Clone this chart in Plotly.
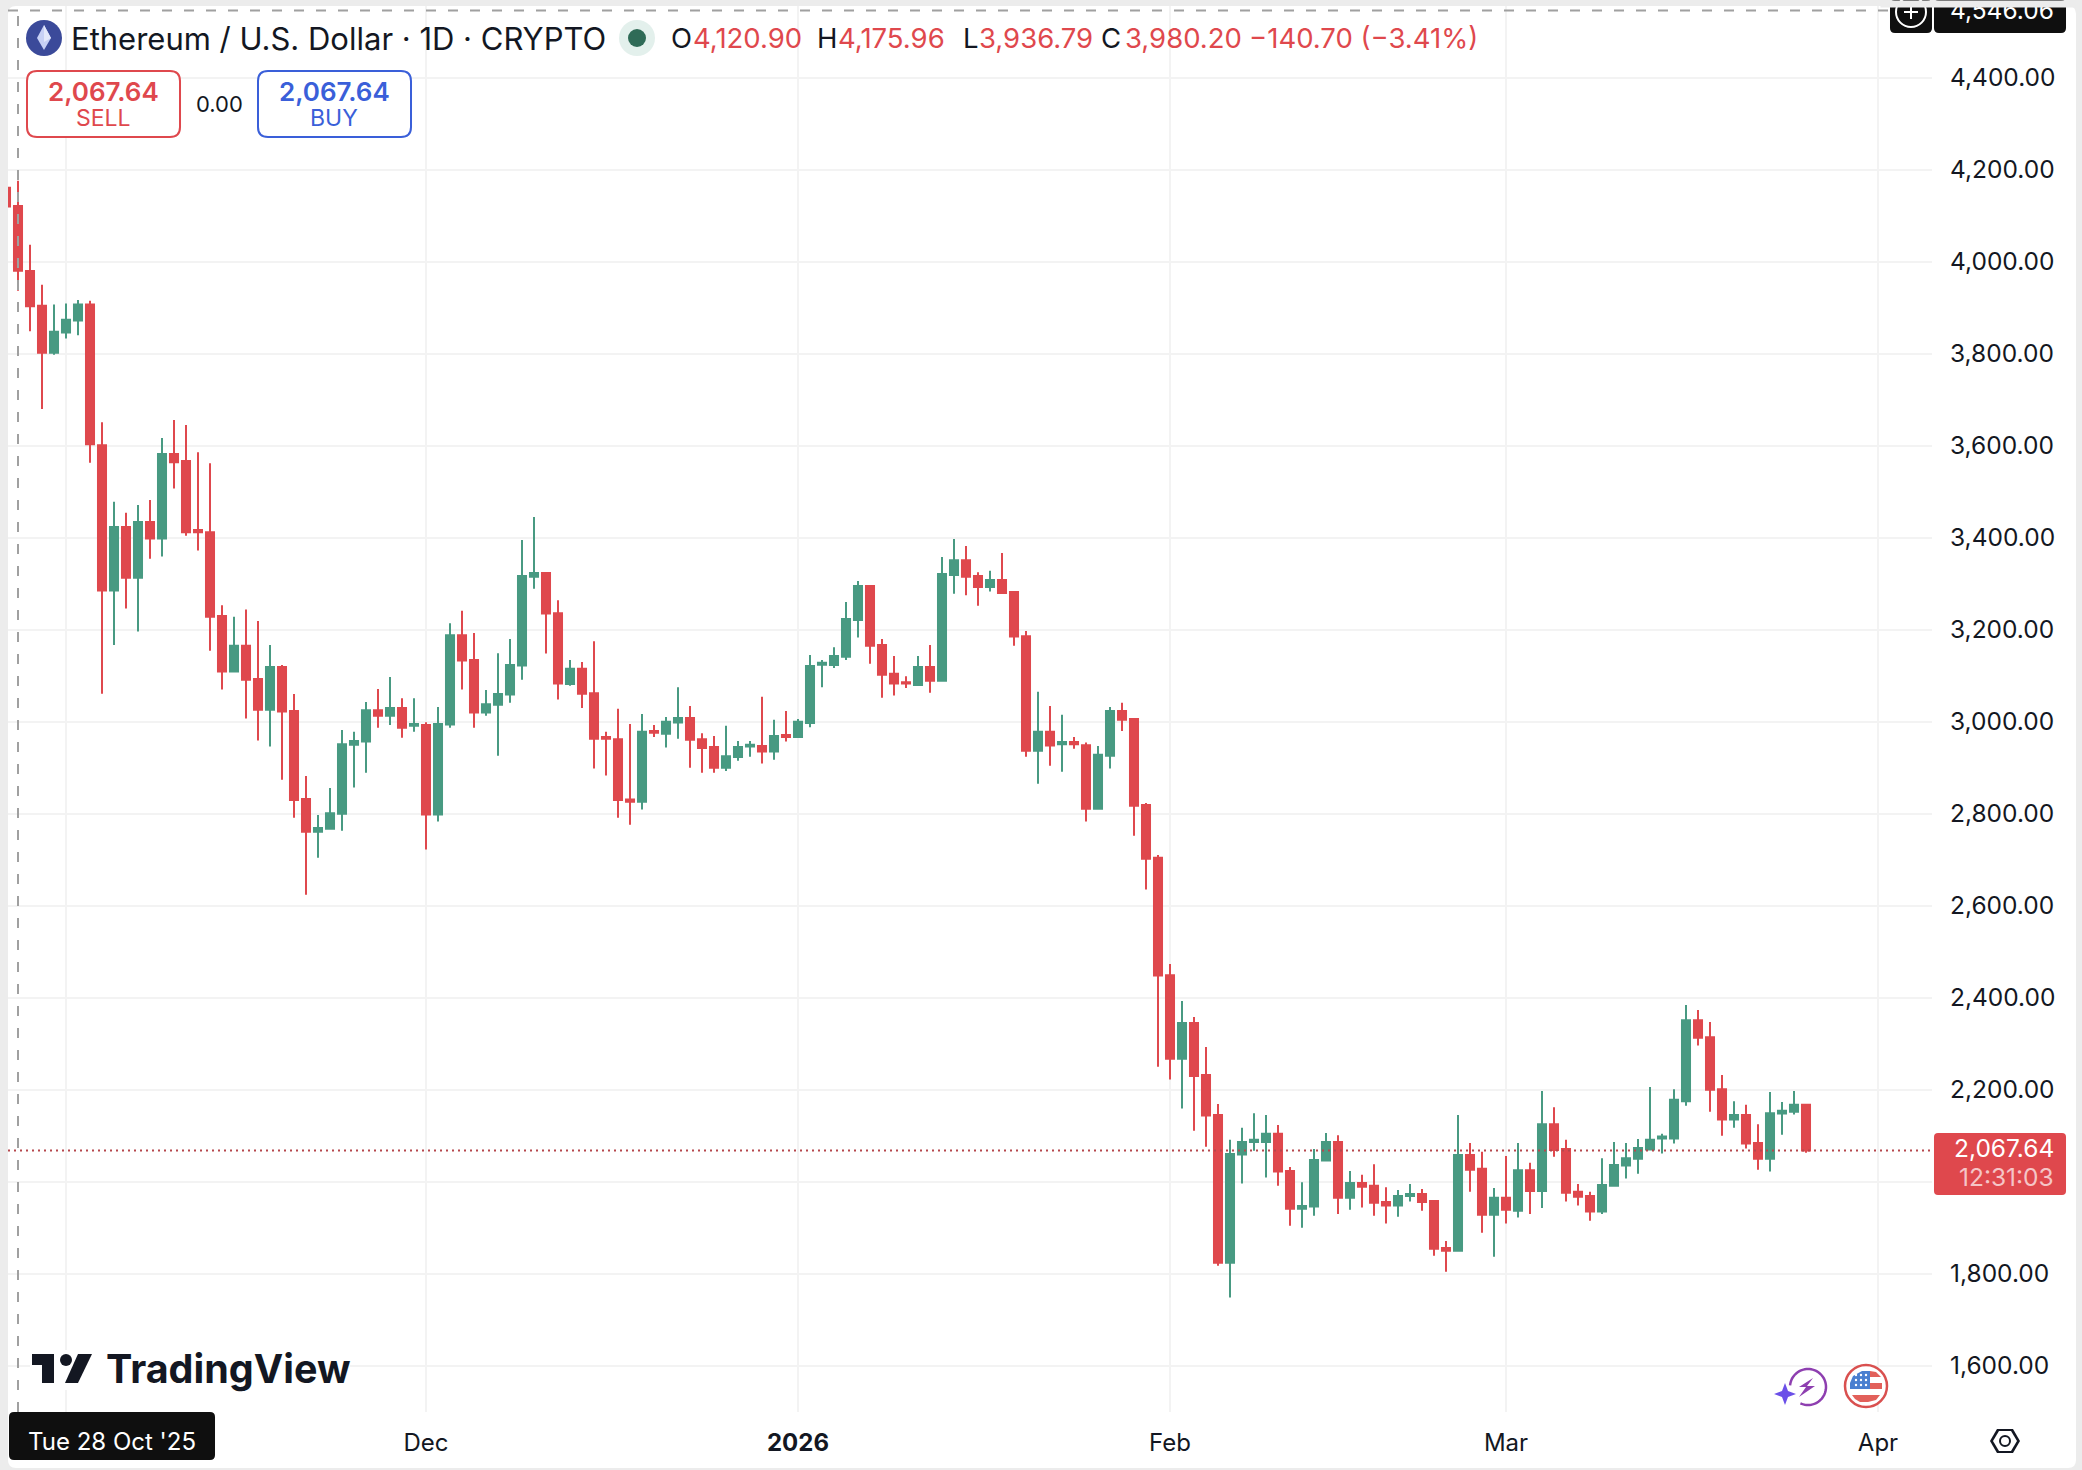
import math

import pandas as pd
import plotly.graph_objects as go

W = 2082
H = 1470

# Daily candles, 27 Oct 2025 to 26 Mar 2026
aperturas = [
    4161, 4120.90, 3980, 3904, 3802,
    3846, 3872, 3907, 3601, 3285, 3423, 3313, 3434, 3398, 3582, 3567, 3417, 3412, 3230, 3109,
    3165, 3093, 3026, 3119, 3023, 2832, 2761, 2767, 2800, 2950, 2957, 3025, 3013, 3030, 2991,
    2993, 2798, 2994, 3188, 3134, 3020, 3037, 3059, 3122, 3315, 3323, 3236, 3082, 3115, 3062, 2967,
    2962, 2831, 2826, 2980, 2974, 2998, 3008, 2962, 2945, 2900, 2923, 2946, 2947, 2935, 2971,
    2967, 2997, 3124, 3123, 3141, 3221, 3295, 3167, 3104, 3086, 3080, 3119, 3089, 3319, 3351, 3317,
    3293, 3308, 3282, 3186, 2937, 2978, 2951, 2956, 2949, 2811, 2926, 3023, 3006, 2819, 2704,
    2449, 2267, 2345, 2232, 2145, 1824, 2059, 2086, 2086, 2104, 2023, 1941, 1946, 2046,
    2086, 1965, 1997, 1991, 1956, 1948, 1969, 1973, 1958, 1856, 1850, 2058, 2028, 1928,
    1965, 1937, 2025, 1980, 2125, 2071, 1978, 1969, 1935, 1991, 2035, 2050, 2070,
    2094, 2094, 2175, 2351, 2314, 2201, 2135, 2145, 2084, 2050, 2148, 2152, 2167,
]
maximos = [
    4165, 4175.96, 4037, 3950, 3907,
    3909, 3917, 3915, 3651, 3478, 3454, 3471, 3482, 3617, 3656, 3645, 3586, 3562, 3253, 3228,
    3244, 3219, 3167, 3123, 3060, 2882, 2797, 2856, 2982, 2978, 3043, 3071, 3097, 3051, 3051,
    2999, 3032, 3214, 3241, 3193, 3069, 3149, 3180, 3395, 3445, 3325, 3264, 3134, 3130, 3175, 2978,
    3028, 2995, 3017, 2993, 3010, 3075, 3034, 2975, 2969, 2991, 2958, 2958, 3054, 3004, 3023,
    3006, 3145, 3134, 3162, 3260, 3306, 3295, 3180, 3143, 3099, 3143, 3167, 3358, 3397, 3382, 3325,
    3328, 3367, 3282, 3197, 3065, 3034, 3015, 2967, 2955, 2947, 3032, 3041, 3008, 2823, 2710,
    2473, 2393, 2358, 2293, 2169, 2091, 2117, 2149, 2145, 2123, 2032, 1999, 2071, 2106,
    2101, 2023, 2015, 2038, 1988, 1982, 1995, 1984, 1958, 1871, 2145, 2084, 2065, 1986,
    2056, 2084, 2041, 2197, 2162, 2091, 1995, 1978, 2051, 2086, 2084, 2093, 2206,
    2104, 2201, 2384, 2373, 2347, 2232, 2175, 2167, 2125, 2195, 2173, 2197, 2169,
]
minimos = [
    4120, 3936.79, 3849, 3680, 3798,
    3833, 3840, 3563, 3061, 3167, 3246, 3196, 3354, 3359, 3507, 3404, 3372, 3154, 3070, 3109,
    3007, 2959, 2946, 2874, 2791, 2624, 2704, 2767, 2763, 2857, 2889, 2987, 2993, 2965, 2978,
    2722, 2783, 2987, 3070, 2987, 3013, 2926, 3041, 3091, 3289, 3148, 3048, 3078, 3030, 2898, 2883,
    2791, 2776, 2809, 2967, 2944, 2963, 2900, 2889, 2889, 2893, 2915, 2924, 2909, 2917, 2957,
    2967, 2988, 3075, 3117, 3134, 3183, 3126, 3052, 3057, 3073, 3080, 3063, 3089, 3278, 3275, 3252,
    3283, 3278, 3165, 2924, 2865, 2904, 2891, 2941, 2783, 2811, 2898, 2980, 2752, 2635, 2250,
    2222, 2159, 2111, 2076, 1817, 1748, 1996, 2067, 2009, 1991, 1904, 1900, 1926, 2044,
    1930, 1939, 1944, 1926, 1909, 1924, 1957, 1937, 1839, 1804, 1848, 1978, 1889, 1837,
    1909, 1922, 1930, 1943, 2054, 1957, 1948, 1915, 1930, 1991, 2007, 2017, 2069,
    2061, 2083, 2165, 2296, 2152, 2100, 2117, 2072, 2026, 2022, 2102, 2146, 2063,
]
cierres = [
    4120, 3980.20, 3903, 3802, 3848,
    3874, 3907, 3603, 3285, 3423, 3313, 3434, 3398, 3582, 3564, 3412, 3412, 3228, 3109, 3165,
    3091, 3026, 3119, 3022, 2830, 2761, 2769, 2801, 2951, 2958, 3025, 3013, 3030, 2987, 2995,
    2798, 2995, 3188, 3133, 3020, 3038, 3060, 3123, 3317, 3323, 3235, 3083, 3115, 3061, 2963, 2963,
    2830, 2826, 2978, 2976, 3000, 3008, 2961, 2943, 2900, 2925, 2945, 2950, 2935, 2969, 2967,
    3000, 3121, 3128, 3143, 3223, 3295, 3165, 3102, 3083, 3083, 3119, 3089, 3321, 3351, 3315, 3293,
    3308, 3280, 3185, 2937, 2978, 2948, 2956, 2951, 2811, 2928, 3023, 3004, 2817, 2702, 2448,
    2267, 2345, 2230, 2144, 1824, 2060, 2086, 2091, 2104, 2022, 1941, 1947, 2047, 2086,
    1965, 1997, 1989, 1954, 1948, 1969, 1973, 1956, 1854, 1850, 2058, 2026, 1928, 1965,
    1939, 2025, 1980, 2125, 2069, 1976, 1967, 1935, 1993, 2036, 2051, 2073, 2091,
    2098, 2178, 2351, 2313, 2200, 2135, 2145, 2083, 2050, 2149, 2154, 2167, 2067.64,
]
fechas = pd.date_range("2025-10-27", periods=len(cierres), freq="D")

precios_eje = [1600, 1800, 2000, 2200, 2400, 2600, 2800, 3000, 3200, 3400, 3600, 3800, 4000, 4200, 4400]
meses_eje = ["2025-11-01", "2025-12-01", "2026-01-01", "2026-02-01", "2026-03-01", "2026-04-01"]
meses_texto = [" ", "Dec", "<b>2026</b>", "Feb", "Mar", "Apr"]

ultimo_precio = 2067.64
cruz_precio = 4546.06
cruz_fecha = "2025-10-28"

ROJO = "#DF484D"
VERDE = "#489A82"
AZUL = "#3A5FD9"
NEGRO = "#131722"
GRIS = "#ECECEC"
REJILLA = "#F3F3F3"
FUENTE = "Inter"

formas = []
textos = []


def px(x):
    return x / W


def py(y):
    return 1 - y / H


def poligono(puntos, color):
    d = "M" + " L".join(f"{px(x):.5f},{py(y):.5f}" for x, y in puntos) + " Z"
    formas.append(dict(type="path", path=d, xref="paper", yref="paper", fillcolor=color, line_width=0))


def caja(x0, y0, x1, y1, r, relleno, borde=None, capa="above"):
    rx, ry = r / W, r / H
    a, b, c, e = px(x0), px(x1), py(y0), py(y1)
    d = (f"M{a + rx:.5f},{c:.5f} L{b - rx:.5f},{c:.5f} Q{b:.5f},{c:.5f} {b:.5f},{c - ry:.5f} "
         f"L{b:.5f},{e + ry:.5f} Q{b:.5f},{e:.5f} {b - rx:.5f},{e:.5f} "
         f"L{a + rx:.5f},{e:.5f} Q{a:.5f},{e:.5f} {a:.5f},{e + ry:.5f} "
         f"L{a:.5f},{c - ry:.5f} Q{a:.5f},{c:.5f} {a + rx:.5f},{c:.5f} Z")
    formas.append(dict(type="path", path=d, xref="paper", yref="paper", fillcolor=relleno, layer=capa,
                       line=dict(color=borde or relleno, width=2 if borde else 0)))


def circulo(cx, cy, r, relleno, borde=None, ancho=0):
    formas.append(dict(type="circle", xref="paper", yref="paper", x0=px(cx - r), x1=px(cx + r),
                       y0=py(cy + r), y1=py(cy - r), fillcolor=relleno,
                       line=dict(color=borde or relleno, width=ancho)))


def raya(x0, y0, x1, y1, color, ancho=2):
    formas.append(dict(type="line", xref="paper", yref="paper", x0=px(x0), x1=px(x1), y0=py(y0), y1=py(y1),
                       line=dict(color=color, width=ancho)))


def texto(x, y, t, size, color, ancla="left", peso=None, alto=None):
    fuente = dict(family=FUENTE, size=size, color=color)
    if peso:
        fuente["weight"] = peso
    nota = dict(x=px(x), y=py(y), xref="paper", yref="paper", text=t, showarrow=False,
                xanchor=ancla, yanchor="middle", font=fuente, borderpad=0)
    if alto:
        nota["height"] = alto
    textos.append(nota)


# Panel
caja(8, 6, 2076, 1468, 8, "white", capa="below")

# Header
circulo(44, 38, 18, "#3B4A9A")
poligono([(44, 25), (51, 38), (44, 50), (37, 38)], "#C7D0F5")
poligono([(44, 25), (51, 38), (44, 42)], "#E3E8FB")
texto(70, 38, "Ethereum / U.S. Dollar · 1D · CRYPTO", 31, NEGRO)
circulo(637, 38, 18, "#E3F0EC")
circulo(637, 38, 9, "#2F6B57")
for x, t, color in [(670, "O", NEGRO), (692, "4,120.90", ROJO), (816, "H", NEGRO), (837, "4,175.96", ROJO),
                    (962, "L", NEGRO), (978, "3,936.79", ROJO), (1100, "C", NEGRO), (1124, "3,980.20", ROJO),
                    (1248, "−140.70 (−3.41%)", ROJO)]:
    texto(x, 38, t, 27.5, color)

# Sell / buy buttons
caja(27, 71, 180, 137, 10, "white", ROJO)
texto(103, 91, "2,067.64", 26, ROJO, "center", 600)
texto(103, 118, "SELL", 23, ROJO, "center")
texto(219, 104, "0.00", 22, NEGRO, "center")
caja(258, 71, 411, 137, 10, "white", AZUL)
texto(334, 91, "2,067.64", 26, AZUL, "center", 600)
texto(334, 118, "BUY", 23, AZUL, "center")

# Crosshair labels
caja(1890, 0, 1932, 33, 5, "#0F0F0F")
circulo(1911, 12, 15, "#0F0F0F", "white", 2)
raya(1904, 12, 1918, 12, "white")
raya(1911, 5, 1911, 19, "white")
caja(1934, 0, 2066, 33, 5, "#0F0F0F")
texto(2055, 10, f"{cruz_precio:,.2f}", 24.5, "white", "right")
caja(9, 1412, 215, 1460, 5, "#0F0F0F")
texto(112, 1441, "Tue 28 Oct '25", 24, "white", "center")

# Last price tag
caja(1934, 1133, 2066, 1195, 4, ROJO)
texto(2055, 1148, f"{ultimo_precio:,.2f}", 24.5, "white", "right", alto=28)
texto(2055, 1177, "12:31:03", 24.5, "rgba(255,255,255,0.7)", "right", alto=28)

# TradingView logo
caja(30, 1350, 350, 1390, 0, "white")
poligono([(32, 1354), (54, 1354), (54, 1383), (42, 1383), (42, 1365), (32, 1365)], NEGRO)
circulo(66, 1360, 6, NEGRO)
poligono([(78, 1354), (92, 1354), (78, 1383), (65, 1383)], NEGRO)
texto(105, 1369, "TradingView", 39.5, NEGRO, "left", 700)

# Purple snap icon
arco = [(1808 + 18 * math.cos(math.radians(a)), 1387 + 18 * math.sin(math.radians(a))) for a in range(-175, 116, 5)]
formas.append(dict(type="path", xref="paper", yref="paper", line=dict(color="#8E3FB0", width=2.5),
                   path="M" + " L".join(f"{px(x):.5f},{py(y):.5f}" for x, y in arco)))
poligono([(1813, 1378), (1799, 1387), (1806, 1387), (1799, 1397), (1815, 1386), (1807, 1386)], "#8E3FB0")
poligono([(1785, 1383), (1788, 1391), (1796, 1394), (1788, 1397), (1785, 1405), (1782, 1397), (1774, 1394),
          (1782, 1391)], "#6B4FE8")

# US flag icon
circulo(1866, 1386, 21, "white", "#D9504F", 2.5)
poligono([(1870, 1371), (1862, 1371), (1853, 1376), (1850, 1383), (1850, 1389), (1870, 1389)], "#4A7FD0")
poligono([(1870, 1371), (1876, 1372), (1881, 1377), (1870, 1377)], "#E2605A")
poligono([(1870, 1383), (1882, 1383), (1882, 1389), (1870, 1389)], "#E2605A")
poligono([(1852, 1395), (1880, 1395), (1876, 1400), (1868, 1402), (1860, 1402), (1855, 1399)], "#E2605A")
for fila in (1375, 1380, 1385):
    for col in (1856, 1861, 1866):
        circulo(col, fila, 1.2, "white")

# Settings hexagon
poligono([(1990, 1441), (1997, 1429), (2013, 1429), (2020, 1441), (2013, 1453), (1997, 1453)], NEGRO)
poligono([(1993, 1441), (1999, 1431), (2011, 1431), (2017, 1441), (2011, 1451), (1999, 1451)], "white")
circulo(2005, 1441, 5, "white", NEGRO, 2)

# Hides the crosshair labels above the top edge of the panel
textos.append(dict(x=px(1880), y=1, xref="paper", yref="paper", text="&nbsp;", showarrow=False, xanchor="left",
                   yanchor="top", width=202, height=6, bgcolor=GRIS, borderpad=0, font=dict(size=4)))

# Price lines
formas.append(dict(type="line", xref="paper", yref="y", x0=px(8), x1=px(1932), y0=ultimo_precio, y1=ultimo_precio,
                   line=dict(color="#B5474C", width=2, dash="2px,4px")))
formas.append(dict(type="line", xref="paper", yref="y", x0=px(8), x1=px(1890), y0=cruz_precio, y1=cruz_precio,
                   line=dict(color="#A0A0A0", width=2, dash="10px,12px")))
formas.append(dict(type="line", xref="x", yref="paper", x0=cruz_fecha, x1=cruz_fecha, y0=py(1412), y1=py(6),
                   line=dict(color="#A0A0A0", width=2, dash="10px,12px")))

fig = go.Figure(go.Candlestick(
    x=fechas, open=aperturas, high=maximos, low=minimos, close=cierres,
    increasing=dict(line=dict(color=VERDE, width=2), fillcolor=VERDE),
    decreasing=dict(line=dict(color=ROJO, width=2), fillcolor=ROJO),
    hoverinfo="skip",
))

fig.update_layout(
    width=W, height=H, margin=dict(l=0, r=0, t=0, b=0), showlegend=False,
    paper_bgcolor=GRIS, plot_bgcolor="rgba(0,0,0,0)", boxgap=0.33, boxgroupgap=0,
    shapes=formas, annotations=textos,
    font=dict(family=FUENTE, color=NEGRO),
)
fig.update_xaxes(
    domain=[px(8), px(1932)], range=["2025-10-27 04:00", "2026-04-05 12:00"], rangeslider_visible=False,
    tickvals=meses_eje, ticktext=meses_texto, tickangle=0, tickfont=dict(family=FUENTE, size=24, color=NEGRO),
    showgrid=True, gridcolor=REJILLA, gridwidth=2, zeroline=False, showline=False, ticks="", ticklabelstandoff=14,
)
fig.update_yaxes(
    domain=[py(1412), py(6)], range=[1499.3, 4555.9], side="right",
    tickvals=precios_eje, tickformat=",.2f", tickfont=dict(family=FUENTE, size=24.5, color=NEGRO),
    showgrid=True, gridcolor=REJILLA, gridwidth=2, zeroline=False, showline=False, ticks="", ticklabelstandoff=17,
)

fig.write_html("out.html", config={"displayModeBar": False},
               post_script="document.body.style.margin='0';document.body.style.overflow='hidden';")
